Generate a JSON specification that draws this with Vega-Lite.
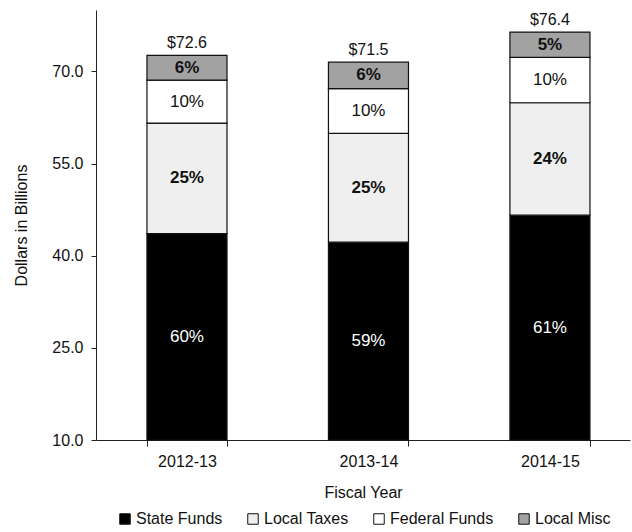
{
  "$schema": "https://vega.github.io/schema/vega-lite/v6.json",
  "width": 534,
  "height": 430,
  "autosize": "none",
  "padding": {"left": 96, "top": 10, "right": 2, "bottom": 92},
  "background": "white",
  "config": {
    "font": "Liberation Sans",
    "view": {"stroke": null},
    "axis": {
      "domainColor": "#222222",
      "tickColor": "#222222",
      "labelColor": "#111111",
      "titleColor": "#111111",
      "labelFontSize": 16,
      "titleFontSize": 16,
      "titleFontWeight": "normal",
      "grid": false
    }
  },
  "data": {
    "values": [
      {"year": "2012-13", "source": "State Funds", "amount": 43.6},
      {"year": "2012-13", "source": "Local Taxes", "amount": 18.0},
      {"year": "2012-13", "source": "Federal Funds", "amount": 7.0},
      {"year": "2012-13", "source": "Local Misc", "amount": 4.0},
      {"year": "2013-14", "source": "State Funds", "amount": 42.2},
      {"year": "2013-14", "source": "Local Taxes", "amount": 17.7},
      {"year": "2013-14", "source": "Federal Funds", "amount": 7.3},
      {"year": "2013-14", "source": "Local Misc", "amount": 4.3},
      {"year": "2014-15", "source": "State Funds", "amount": 46.6},
      {"year": "2014-15", "source": "Local Taxes", "amount": 18.3},
      {"year": "2014-15", "source": "Federal Funds", "amount": 7.4},
      {"year": "2014-15", "source": "Local Misc", "amount": 4.1}
    ]
  },
  "transform": [
    {"calculate": "indexof(['State Funds', 'Local Taxes', 'Federal Funds', 'Local Misc'], datum.source)", "as": "k"},
    {"stack": "amount", "groupby": ["year"], "sort": [{"field": "k", "order": "ascending"}], "as": ["y0", "y1"]},
    {"joinaggregate": [{"op": "sum", "field": "amount", "as": "total"}], "groupby": ["year"]},
    {"calculate": "datum.amount / datum.total", "as": "share"},
    {"calculate": "(max(datum.y0, 10) + datum.y1) / 2", "as": "mid"}
  ],
  "encoding": {
    "x": {
      "field": "year",
      "type": "nominal",
      "scale": {"paddingInner": 0.559, "paddingOuter": 0.2507, "align": 0.56},
      "axis": {
        "title": "Fiscal Year",
        "labelAngle": 0,
        "tickBand": "extent",
        "tickSize": 6,
        "labelPadding": 7,
        "titlePadding": 15
      }
    }
  },
  "layer": [
    {
      "mark": {"type": "bar", "stroke": "#111111", "strokeWidth": 1.2},
      "encoding": {
        "y": {
          "field": "y1",
          "type": "quantitative",
          "scale": {"domain": [10, 80], "clamp": true, "nice": false, "zero": false},
          "axis": {
            "title": "Dollars in Billions",
            "values": [10, 25, 40, 55, 70],
            "format": ".1f",
            "tickSize": 5,
            "labelPadding": 8,
            "titlePadding": 22
          }
        },
        "y2": {"field": "y0"},
        "fill": {
          "field": "source",
          "type": "nominal",
          "scale": {
            "domain": ["State Funds", "Local Taxes", "Federal Funds", "Local Misc"],
            "range": ["#000000", "#efefef", "#ffffff", "#a2a2a2"]
          },
          "legend": {
            "title": null,
            "orient": "none",
            "direction": "horizontal",
            "legendX": 21,
            "legendY": 501,
            "symbolType": "square",
            "symbolSize": 110,
            "symbolStrokeColor": "#111111",
            "symbolStrokeWidth": 1,
            "labelFontSize": 16,
            "labelColor": "#111111",
            "labelOffset": 3,
            "columnPadding": 22
          }
        }
      }
    },
    {
      "transform": [{"filter": "datum.source == 'State Funds' || datum.source == 'Federal Funds'"}],
      "mark": {"type": "text", "fontSize": 17, "baseline": "middle"},
      "encoding": {
        "y": {"field": "mid", "type": "quantitative"},
        "text": {"field": "share", "type": "quantitative", "format": ".0%"},
        "color": {
          "condition": {"test": "datum.source == 'State Funds'", "value": "#ffffff"},
          "value": "#111111"
        }
      }
    },
    {
      "transform": [{"filter": "datum.source == 'Local Taxes' || datum.source == 'Local Misc'"}],
      "mark": {"type": "text", "fontSize": 17, "fontWeight": "bold", "baseline": "middle", "color": "#111111"},
      "encoding": {
        "y": {"field": "mid", "type": "quantitative"},
        "text": {"field": "share", "type": "quantitative", "format": ".0%"}
      }
    },
    {
      "transform": [{"filter": "datum.source == 'Local Misc'"}],
      "mark": {"type": "text", "fontSize": 16, "baseline": "alphabetic", "dy": -7, "color": "#111111"},
      "encoding": {
        "y": {"field": "y1", "type": "quantitative"},
        "text": {"field": "total", "type": "quantitative", "format": "$.1f"}
      }
    }
  ]
}
